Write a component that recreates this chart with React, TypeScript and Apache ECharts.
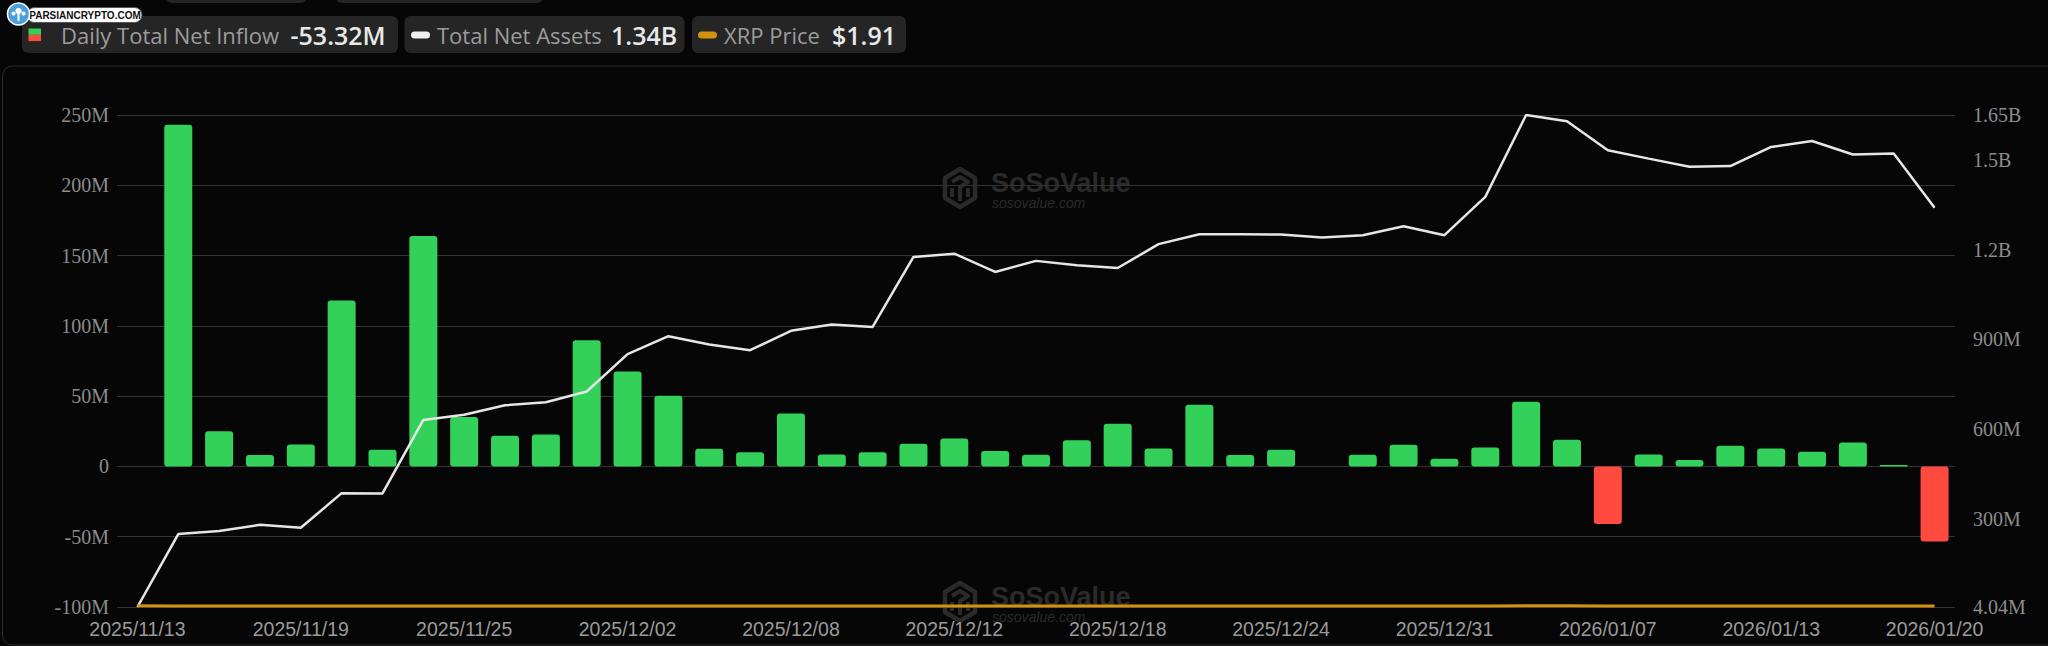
import React, { useEffect, useRef } from "react";
import * as echarts from "echarts";

// ---- data (values in millions of USD, price in USD) ----
const dates = [
  "2025/11/13", "2025/11/14", "2025/11/17", "2025/11/18", "2025/11/19",
  "2025/11/20", "2025/11/21", "2025/11/24", "2025/11/25", "2025/11/26",
  "2025/11/28", "2025/12/01", "2025/12/02", "2025/12/03", "2025/12/04",
  "2025/12/05", "2025/12/08", "2025/12/09", "2025/12/10", "2025/12/11",
  "2025/12/12", "2025/12/15", "2025/12/16", "2025/12/17", "2025/12/18",
  "2025/12/19", "2025/12/22", "2025/12/23", "2025/12/24", "2025/12/26",
  "2025/12/29", "2025/12/30", "2025/12/31", "2026/01/02", "2026/01/05",
  "2026/01/06", "2026/01/07", "2026/01/08", "2026/01/09", "2026/01/12",
  "2026/01/13", "2026/01/14", "2026/01/15", "2026/01/16", "2026/01/20",
];

const netInflow = [
  0, 243.0, 25.1, 8.1, 15.6, 118.0, 11.8, 164.0, 35.1, 21.8,
  22.7, 89.8, 67.5, 50.2, 12.6, 10.0, 37.7, 8.5, 10.0, 16.1,
  19.9, 10.9, 8.3, 18.7, 30.3, 12.8, 43.8, 8.1, 11.8, 0,
  8.3, 15.4, 5.5, 13.5, 46.0, 19.0, -41.0, 8.5, 4.5, 14.7,
  12.8, 10.4, 17.1, 1.0, -53.32,
];

const totalNetAssets = [
  4.04, 248, 258, 279, 269, 385, 384, 630, 647, 679,
  689, 725, 850, 910, 882, 863, 928, 949, 941, 1175,
  1186, 1125, 1162, 1147, 1138, 1218, 1251, 1251, 1250, 1240,
  1248, 1278, 1248, 1376, 1650, 1629, 1532, 1504, 1477, 1479,
  1543, 1563, 1518, 1521, 1340,
];

const xrpPrice = [
  2.37, 2.28, 2.21, 2.16, 2.13, 2.05, 1.95, 2.22, 2.22, 2.19,
  2.2, 2.05, 2.2, 2.2, 2.13, 2.05, 2.06, 2.05, 2.08, 2.0,
  2.0, 1.99, 1.88, 1.85, 1.83, 1.92, 1.93, 1.88, 1.87, 1.86,
  1.87, 1.85, 1.84, 2.0, 2.35, 2.3, 2.2, 2.15, 2.1, 2.05,
  2.12, 2.1, 2.08, 2.06, 1.91,
];

const leftMin = -100;
const leftMax = 250;
const leftInterval = 50;
const rightMin = 4.04;
const rightMax = 1650;
const rightTickValues = [4.04, 300, 600, 900, 1200, 1500, 1650];

const GREEN = "#33d15a";
const RED = "#ff4a3f";
const WHITE_LINE = "#e6e6e6";
const ORANGE = "#d4900f";
const BOX = "#252525";
const WM = "#2a2a2a";

function fmtM(v: number) {
  if (v === 0) return "0";
  return `${v}M`;
}
function fmtRight(v: number) {
  if (v >= 1000) return `${+(v / 1000).toFixed(2)}B`;
  return `${+v.toFixed(2)}M`;
}

function watermark(dy: number) {
  const ox = 943;
  const oy = 167 + dy;
  return [
    {
      type: "polygon",
      z: -1,
      silent: true,
      shape: {
        points: [
          [ox + 17, oy + 2], [ox + 32, oy + 11], [ox + 32, oy + 31],
          [ox + 17, oy + 40], [ox + 2, oy + 31], [ox + 2, oy + 11],
        ],
      },
      style: { fill: "none", stroke: WM, lineWidth: 4.5, lineJoin: "round" },
    },
    {
      type: "polyline",
      z: -1,
      silent: true,
      shape: {
        points: [
          [ox + 9, oy + 15], [ox + 17, oy + 10], [ox + 25, oy + 15],
          [ox + 17, oy + 20], [ox + 17, oy + 34],
        ],
      },
      style: { fill: "none", stroke: WM, lineWidth: 4, lineJoin: "round" },
    },
    {
      type: "polyline",
      z: -1,
      silent: true,
      shape: { points: [[ox + 9, oy + 21], [ox + 9, oy + 30]] },
      style: { fill: "none", stroke: WM, lineWidth: 4 },
    },
    {
      type: "polyline",
      z: -1,
      silent: true,
      shape: { points: [[ox + 25, oy + 21], [ox + 25, oy + 30]] },
      style: { fill: "none", stroke: WM, lineWidth: 4 },
    },
    {
      type: "text",
      z: -1,
      silent: true,
      x: 991,
      y: oy + 16,
      style: {
        text: "SoSoValue",
        fill: WM,
        font: "bold 27px 'Liberation Sans', Arial, sans-serif",
        verticalAlign: "middle",
      },
    },
    {
      type: "text",
      z: -1,
      silent: true,
      x: 992,
      y: oy + 36,
      style: {
        text: "sosovalue.com",
        fill: WM,
        font: "italic 14px 'Liberation Sans', Arial, sans-serif",
        verticalAlign: "middle",
      },
    },
  ];
}

export default function App() {
  const ref = useRef<HTMLDivElement>(null);

  useEffect(() => {
    document.body.style.margin = "0";
    document.body.style.background = "#060606";
    if (!ref.current) return;
    const chart = echarts.init(ref.current, undefined, { renderer: "svg" });

    const last = dates.length - 1;
    const inflowText = `${netInflow[last].toFixed(2)}M`;
    const assetsText = `${(totalNetAssets[last] / 1000).toFixed(2)}B`;
    const priceText = `$${xrpPrice[last].toFixed(2)}`;

    const labelFont = "22px 'Open Sans', sans-serif";
    const valueFont = "600 25px 'Open Sans', sans-serif";
    const ty = 35;

    const graphic: any[] = [
      // frame
      {
        type: "rect",
        z: -2,
        silent: true,
        shape: { x: 2.5, y: 66, width: 2100, height: 579, r: 10 },
        style: { fill: "none", stroke: "#2c2c2c", lineWidth: 1 },
      },
      ...watermark(0),
      ...watermark(414),
      // cut-off boxes at the very top
      { type: "rect", shape: { x: 166, y: -20, width: 141, height: 23, r: 6 }, style: { fill: BOX } },
      { type: "rect", shape: { x: 336, y: -20, width: 207, height: 23, r: 6 }, style: { fill: BOX } },
      // legend box 1
      { type: "rect", z: 10, shape: { x: 22, y: 16, width: 376, height: 37, r: 6 }, style: { fill: BOX } },
      { type: "rect", z: 11, shape: { x: 28.5, y: 28.5, width: 12.5, height: 6.3 }, style: { fill: GREEN } },
      { type: "rect", z: 11, shape: { x: 28.5, y: 34.8, width: 12.5, height: 6.3 }, style: { fill: RED } },
      { type: "text", z: 11, x: 61, y: ty, style: { text: "Daily Total Net Inflow", fill: "#9c9c9c", font: labelFont, verticalAlign: "middle" } },
      { type: "text", z: 11, x: 290.5, y: ty, style: { text: inflowText, fill: "#e8e8e8", font: valueFont, verticalAlign: "middle" } },
      // legend box 2
      { type: "rect", z: 10, shape: { x: 404.5, y: 16, width: 280, height: 37, r: 6 }, style: { fill: BOX } },
      { type: "rect", z: 11, shape: { x: 411, y: 31.5, width: 19, height: 7, r: 3.5 }, style: { fill: "#f0f0f0" } },
      { type: "text", z: 11, x: 437, y: ty, style: { text: "Total Net Assets", fill: "#9c9c9c", font: labelFont, verticalAlign: "middle" } },
      { type: "text", z: 11, x: 611, y: ty, style: { text: assetsText, fill: "#e8e8e8", font: valueFont, verticalAlign: "middle" } },
      // legend box 3
      { type: "rect", z: 10, shape: { x: 692, y: 16, width: 214, height: 37, r: 6 }, style: { fill: BOX } },
      { type: "rect", z: 11, shape: { x: 698, y: 31.5, width: 19, height: 7, r: 3.5 }, style: { fill: ORANGE } },
      { type: "text", z: 11, x: 724, y: ty, style: { text: "XRP Price", fill: "#9c9c9c", font: labelFont, verticalAlign: "middle" } },
      { type: "text", z: 11, x: 832, y: ty, style: { text: priceText, fill: "#e8e8e8", font: valueFont, verticalAlign: "middle" } },
      // PARSIANCRYPTO badge
      { type: "rect", z: 20, shape: { x: 27, y: 7.5, width: 115, height: 15, r: 7.5 }, style: { fill: "#ffffff", stroke: "#555", lineWidth: 1 } },
      { type: "text", z: 21, x: 85, y: 15.3, style: { text: "PARSIANCRYPTO.COM", fill: "#111", font: "bold 10px 'Liberation Sans', Arial, sans-serif", align: "center", verticalAlign: "middle" } },
      { type: "circle", z: 22, shape: { cx: 18.5, cy: 14, r: 11 }, style: { fill: "#4a9fdc", stroke: "#ffffff", lineWidth: 1.5 } },
      { type: "circle", z: 23, shape: { cx: 18.5, cy: 11, r: 3.2 }, style: { fill: "#ffffff" } },
      { type: "circle", z: 23, shape: { cx: 13.5, cy: 13.5, r: 2 }, style: { fill: "#ffffff" } },
      { type: "circle", z: 23, shape: { cx: 23.5, cy: 13.5, r: 2 }, style: { fill: "#ffffff" } },
      { type: "rect", z: 23, shape: { x: 17.5, y: 13, width: 2, height: 8 }, style: { fill: "#ffffff" } },
    ];

    const option: any = {
      animation: false,
      backgroundColor: "#060606",
      grid: { left: 117, right: 93, top: 115, bottom: 39 },
      xAxis: {
        type: "category",
        data: dates,
        boundaryGap: true,
        axisLine: { show: false },
        axisTick: { show: false },
        axisLabel: {
          interval: 3,
          margin: 12,
          color: "#9a9a9a",
          fontSize: 19.5,
          fontFamily: "'Liberation Sans', Arial, sans-serif",
        },
      },
      yAxis: [
        {
          type: "value",
          min: leftMin,
          max: leftMax,
          interval: leftInterval,
          axisLine: { show: false },
          axisTick: { show: false },
          splitLine: { lineStyle: { color: "#333333", width: 1 } },
          axisLabel: {
            margin: 8,
            color: "#8c8c8c",
            fontSize: 20,
            fontFamily: "'Liberation Serif', 'Times New Roman', serif",
            formatter: fmtM,
          },
        },
        {
          type: "value",
          position: "right",
          min: rightMin,
          max: rightMax,
          axisLine: { show: false },
          axisTick: { show: false },
          splitLine: { show: false },
          axisLabel: {
            margin: 18,
            color: "#8c8c8c",
            fontSize: 20,
            fontFamily: "'Liberation Serif', 'Times New Roman', serif",
            customValues: rightTickValues,
            formatter: fmtRight,
          },
        },
        { type: "value", show: false, min: 0, max: 1000 },
      ],
      graphic,
      series: [
        {
          name: "Daily Total Net Inflow",
          type: "bar",
          yAxisIndex: 0,
          barWidth: 28,
          z: 2,
          data: netInflow.map((v) => ({
            value: v,
            itemStyle: { color: v < 0 ? RED : GREEN, borderRadius: 3 },
          })),
        },
        {
          name: "Total Net Assets",
          type: "line",
          yAxisIndex: 1,
          data: totalNetAssets,
          showSymbol: false,
          symbol: "none",
          z: 4,
          lineStyle: { color: WHITE_LINE, width: 2.5 },
        },
        {
          name: "XRP Price",
          type: "line",
          yAxisIndex: 2,
          data: xrpPrice,
          showSymbol: false,
          symbol: "none",
          z: 5,
          lineStyle: { color: ORANGE, width: 3 },
        },
      ],
    };

    chart.setOption(option);
    return () => chart.dispose();
  }, []);

  return (
    <div
      ref={ref}
      style={{ position: "fixed", left: 0, top: 0, width: 2048, height: 646 }}
    />
  );
}
